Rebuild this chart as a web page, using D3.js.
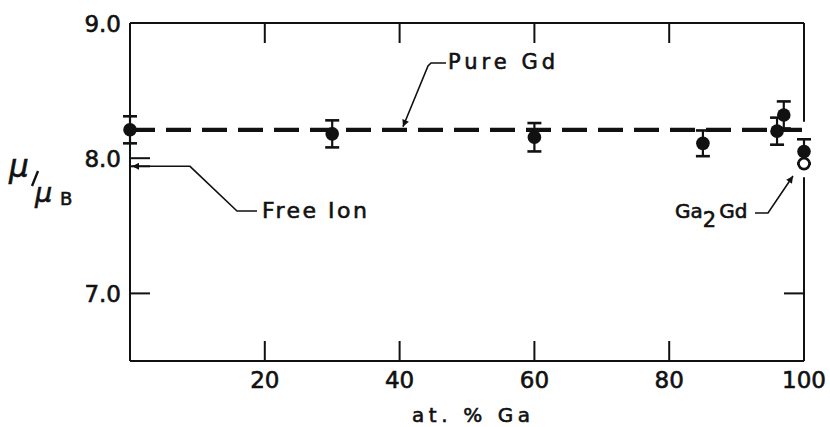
<!DOCTYPE html>
<html>
<head>
<meta charset="utf-8">
<script src="https://cdn.jsdelivr.net/npm/d3@7/dist/d3.min.js"></script>
<style>
  html, body { margin: 0; padding: 0; background: #fff; }
  svg { display: block; }
  text { font-family: "DejaVu Sans", sans-serif; fill: #111; stroke: #111; stroke-width: 0.6; }
</style>
</head>
<body>
<svg id="chart" width="830" height="427"></svg>
<script>
// Magnetic moment per Gd atom vs. Ga content
const gaPercent  = [0, 30, 60, 85, 96, 97, 100];
const moment     = [8.21, 8.18, 8.155, 8.11, 8.20, 8.32, 8.05];
const momentErr  = [0.10, 0.10, 0.105, 0.095, 0.10, 0.10, 0.09];

// Ga2Gd compound (open circle)
const compoundX = [100];
const compoundY = [7.96];

// Reference levels
const pureGd  = 8.21;
const freeIon = 7.94;

const xTicks = [20, 40, 60, 80, 100];
const yTicks = [7.0, 8.0, 9.0];
const xTickLabels = ["20", "40", "60", "80", "100"];
const yTickLabels = ["7.0", "8.0", "9.0"];

const svg = d3.select("#chart");
const x = d3.scaleLinear().domain([0, 100]).range([130, 804]);
const y = d3.scaleLinear().domain([6.5, 9.0]).range([361, 23]);
const ink = "#111";

// Frame: left, top and bottom axes
const frame = svg.append("g").attr("stroke", ink).attr("stroke-width", 2).attr("fill", "none");
frame.append("line").attr("x1", x(0)).attr("x2", x(0)).attr("y1", y(9)).attr("y2", y(6.5));
frame.append("line").attr("x1", x(0)).attr("x2", x(100)).attr("y1", y(9)).attr("y2", y(9));
frame.append("line").attr("x1", x(0)).attr("x2", x(100)).attr("y1", y(6.5)).attr("y2", y(6.5));
// Right axis, interrupted where the high-Ga points sit
frame.append("line").attr("x1", x(100)).attr("x2", x(100)).attr("y1", y(9)).attr("y2", y(8.27));
frame.append("line").attr("x1", x(100)).attr("x2", x(100)).attr("y1", y(7.86)).attr("y2", y(6.5));

// Inward ticks
const tickLen = 20;
xTicks.filter(d => d < 100).forEach(d => {
  frame.append("line").attr("x1", x(d)).attr("x2", x(d)).attr("y1", y(9)).attr("y2", y(9) + tickLen);
  frame.append("line").attr("x1", x(d)).attr("x2", x(d)).attr("y1", y(6.5)).attr("y2", y(6.5) - tickLen);
});
[7.0, 8.0].forEach(d => {
  frame.append("line").attr("x1", x(0)).attr("x2", x(0) + tickLen).attr("y1", y(d)).attr("y2", y(d));
});
frame.append("line").attr("x1", x(100)).attr("x2", x(100) - tickLen).attr("y1", y(7)).attr("y2", y(7));

// Tick labels
svg.append("g").selectAll("text").data(xTicks).join("text")
  .attr("x", d => x(d)).attr("y", 388)
  .attr("text-anchor", "middle").attr("font-size", 23)
  .text((d, i) => xTickLabels[i]);
svg.append("g").selectAll("text").data(yTicks).join("text")
  .attr("x", 121).attr("y", d => y(d) + 9)
  .attr("text-anchor", "end").attr("font-size", 23)
  .text((d, i) => yTickLabels[i]);

// Axis titles
svg.append("text").attr("x", 412).attr("y", 422).attr("font-size", 20)
  .attr("textLength", 118).attr("lengthAdjust", "spacing").text("at. % Ga");
const yl = svg.append("g");
yl.append("text").attr("x", 9).attr("y", 177).attr("font-size", 31).attr("font-style", "italic").text("μ");
yl.append("line").attr("x1", 32).attr("y1", 186).attr("x2", 38).attr("y2", 171).attr("stroke", ink).attr("stroke-width", 2.4);
yl.append("text").attr("x", 35).attr("y", 202).attr("font-size", 27).attr("font-style", "italic").text("μ");
yl.append("text").attr("x", 60).attr("y", 205).attr("font-size", 18).text("B");

// Pure Gd reference (dashed)
svg.append("line")
  .attr("x1", x(0)).attr("x2", x(99.7))
  .attr("y1", y(pureGd)).attr("y2", y(pureGd))
  .attr("stroke", ink).attr("stroke-width", 4.2)
  .attr("stroke-dasharray", "25 11");

// Free ion marker on the left axis
svg.append("line").attr("x1", x(0)).attr("x2", x(0) + tickLen).attr("y1", y(freeIon)).attr("y2", y(freeIon))
  .attr("stroke", ink).attr("stroke-width", 2);

// Arrowhead
svg.append("defs").append("marker")
  .attr("id", "arrow").attr("viewBox", "0 0 10 10").attr("refX", 10).attr("refY", 5)
  .attr("markerWidth", 11).attr("markerHeight", 7).attr("markerUnits", "userSpaceOnUse")
  .attr("orient", "auto")
  .append("path").attr("d", "M0,0 L10,5 L0,10 Z").attr("fill", ink);

const leader = d3.line();
// Free Ion label
svg.append("path")
  .attr("d", leader([[257, 211], [237, 211], [190, y(freeIon)], [x(0) + 2, y(freeIon)]]))
  .attr("fill", "none").attr("stroke", ink).attr("stroke-width", 1.6).attr("marker-end", "url(#arrow)");
svg.append("text").attr("x", 262).attr("y", 218).attr("font-size", 22)
  .attr("textLength", 105).attr("lengthAdjust", "spacing").text("Free Ion");

// Pure Gd label
svg.append("path")
  .attr("d", leader([[446, 63], [431, 63], [428, 66], [x(40.5), y(pureGd) - 3]]))
  .attr("fill", "none").attr("stroke", ink).attr("stroke-width", 1.6).attr("marker-end", "url(#arrow)");
svg.append("text").attr("x", 448).attr("y", 69).attr("font-size", 21)
  .attr("textLength", 107).attr("lengthAdjust", "spacing").text("Pure  Gd");

// Ga2Gd label
svg.append("path")
  .attr("d", leader([[755, 213], [768, 213], [793, 176]]))
  .attr("fill", "none").attr("stroke", ink).attr("stroke-width", 1.6).attr("marker-end", "url(#arrow)");
const g2 = svg.append("text").attr("x", 675).attr("y", 218).attr("font-size", 20);
g2.append("tspan").text("Ga");
g2.append("tspan").attr("dy", 9).attr("font-size", 21).text("2");
g2.append("tspan").attr("dx", 3).attr("dy", -9).text("Gd");

// Error bars and measured points
const pts = gaPercent.map((g, i) => ({ g, m: moment[i], e: momentErr[i] }));
const eb = svg.append("g").attr("stroke", ink);
pts.forEach(p => {
  eb.append("line").attr("x1", x(p.g)).attr("x2", x(p.g)).attr("y1", y(p.m + p.e)).attr("y2", y(p.m - p.e)).attr("stroke-width", 2.2);
  [p.m + p.e, p.m - p.e].forEach(v => {
    eb.append("line").attr("x1", x(p.g) - 7).attr("x2", x(p.g) + 7).attr("y1", y(v)).attr("y2", y(v)).attr("stroke-width", 2.6);
  });
});
svg.append("g").selectAll("circle").data(pts).join("circle")
  .attr("cx", d => x(d.g)).attr("cy", d => y(d.m)).attr("r", 6.8).attr("fill", ink);

// Ga2Gd compound point
svg.append("g").selectAll("circle").data(compoundX).join("circle")
  .attr("cx", d => x(d)).attr("cy", (d, i) => y(compoundY[i])).attr("r", 5.5)
  .attr("fill", "#fff").attr("stroke", ink).attr("stroke-width", 2.6);
</script>
</body>
</html>
